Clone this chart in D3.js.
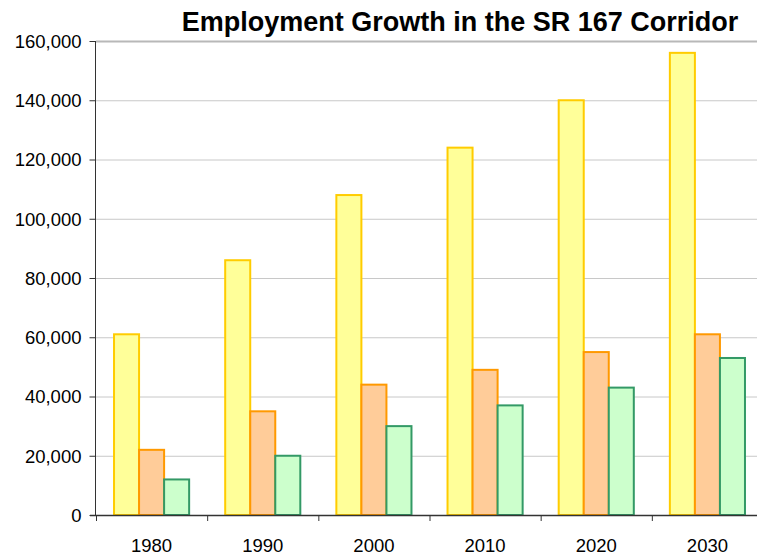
<!DOCTYPE html>
<meta charset="utf-8">
<html><head>
<style>
body { margin: 0; background: #fff; }
text { font-family: "Liberation Sans", Arial, sans-serif; }
.grid line { stroke: #c8c8c8; stroke-width: 1px; }
</style>
</head>
<body>
<svg width="757" height="557"></svg>
<script src="https://d3js.org/d3.v7.min.js"></script>
<script>

var years = ["1980", "1990", "2000", "2010", "2020", "2030"];
var seriesA = [61000, 86000, 108000, 124000, 140000, 156000];
var seriesB = [22000, 35000, 44000, 49000, 55000, 61000];
var seriesC = [12000, 20000, 30000, 37000, 43000, 53000];
var yTicks = [0, 20000, 40000, 60000, 80000, 100000, 120000, 140000, 160000];

var fills = ["#ffff99", "#ffcc99", "#ccffcc"];
var strokes = ["#ffcc00", "#ff9900", "#339966"];

var svg = d3.select("svg"),
    plotL = 96, plotR = 763, plotT = 41, plotB = 515;

var x = d3.scaleBand().domain(years).range([plotL, plotR]).paddingInner(0).paddingOuter(0);
var y = d3.scaleLinear().domain([0, 160000]).range([plotB, plotT]);
var xs = d3.scaleBand().domain([0, 1, 2]).range([0, x.bandwidth()]).paddingInner(0).paddingOuter(0.72);

// gridlines
svg.append("g")
    .attr("class", "grid")
  .selectAll("line")
  .data(yTicks.slice(1))
  .enter().append("line")
    .attr("x1", plotL)
    .attr("x2", plotR)
    .attr("y1", function(d) { return y(d) + 0.5; })
    .attr("y2", function(d) { return y(d) + 0.5; })
    .style("stroke-width", function(d) { return d === 160000 ? 2 : 1; })
    .style("stroke", function(d) { return d === 160000 ? "#b8b8b8" : "#c8c8c8"; });

var table = years.map(function(yr, i) {
  return { year: yr, vals: [seriesA[i], seriesB[i], seriesC[i]] };
});

var groups = svg.append("g")
  .selectAll("g")
  .data(table)
  .enter().append("g")
    .attr("transform", function(d) { return "translate(" + x(d.year) + ",0)"; });

groups.selectAll("rect")
  .data(function(d) { return d.vals; })
  .enter().append("rect")
    .attr("x", function(d, i) { return xs(i); })
    .attr("width", xs.bandwidth())
    .attr("y", function(d) { return y(d); })
    .attr("height", function(d) { return plotB - y(d); })
    .attr("fill", function(d, i) { return fills[i]; })
    .attr("stroke", function(d, i) { return strokes[i]; })
    .attr("stroke-width", 2);

// y axis
var yAxis = svg.append("g")
    .attr("transform", "translate(" + (plotL - 0.5) + ",0)")
    .call(d3.axisLeft(y).tickValues(yTicks).tickSize(6).tickPadding(8)
      .tickFormat(d3.format(",")));
yAxis.select(".domain").attr("stroke", "#333").attr("d", "M0," + plotT + "V" + plotB);
yAxis.selectAll(".tick line").attr("stroke", "#333");
yAxis.selectAll("text")
    .attr("fill", "#000")
    .style("font-size", "18.5px")
    .attr("dy", "0.35em");

// x axis
var xAxis = svg.append("g")
    .attr("transform", "translate(0," + (plotB + 0.5) + ")")
    .call(d3.axisBottom(x).tickSize(0).tickPadding(23));
xAxis.select(".domain").attr("stroke", "#333").attr("stroke-width", 1.5).attr("d", "M" + (plotL - 6) + ",0H" + plotR);
xAxis.selectAll("text")
    .attr("fill", "#000")
    .style("font-size", "18.5px");

// tick marks between categories
svg.append("g")
  .selectAll("line")
  .data(years)
  .enter().append("line")
    .attr("x1", function(d) { return x(d) + 0.5; })
    .attr("x2", function(d) { return x(d) + 0.5; })
    .attr("y1", plotB)
    .attr("y2", plotB + 6)
    .attr("stroke", "#333");

svg.append("text")
    .attr("x", 460)
    .attr("y", 31)
    .attr("text-anchor", "middle")
    .style("font-size", "27px")
    .style("font-weight", "bold")
    .text("Employment Growth in the SR 167 Corridor");

</script>
</body>
</html>
